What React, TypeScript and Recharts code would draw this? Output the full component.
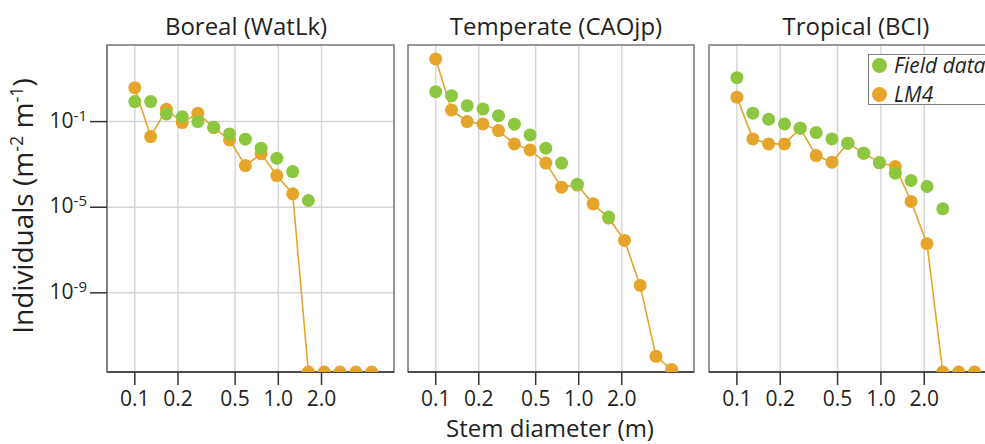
import React from 'react';
import { LineChart, Line, XAxis, YAxis, CartesianGrid, ReferenceArea, Legend } from 'recharts';

// Stem-diameter bin centres (m), shared by all panels
const DIAMETERS = [0.1, 0.129, 0.166, 0.214, 0.275, 0.355, 0.457, 0.589, 0.759, 0.977, 1.26, 1.62, 2.09, 2.69, 3.47, 4.47];

const X_TICKS = [0.1, 0.2, 0.5, 1, 2];
const Y_TICKS = [1e-9, 1e-5, 1e-1];
const X_DOMAIN: [number, number] = [0.064, 6.4];
const Y_DOMAIN: [number, number] = [2e-13, 380];

const TITLES = ['Boreal (WatLk)', 'Temperate (CAOjp)', 'Tropical (BCI)'];
const LEGEND_ITEMS = [
  { key: 'field', label: 'Field data' },
  { key: 'lm4', label: 'LM4' },
];

// Individuals (m-2 m-1); null = no field data, 0 = model gives zero (drawn on the axis floor)
const BOREAL_FIELD = [0.86, 0.86, 0.229, 0.171, 0.1, 0.0548, 0.0267, 0.0151, 0.00574, 0.00196, 4.65e-4, 2.06e-5, null, null, null, null];
const BOREAL_LM4 = [3.86, 0.02, 0.379, 0.0898, 0.247, 0.0525, 0.014, 8.85e-4, 0.00311, 3.02e-4, 4.23e-5, 0, 0, 0, 0, 0];

const TEMPERATE_FIELD = [2.51, 1.63, 0.558, 0.392, 0.19, 0.0756, 0.0239, 0.00574, 0.00115, 1.2e-4, null, 3.46e-6, null, null, null, null];
const TEMPERATE_LM4 = [84.3, 0.351, 0.1, 0.078, 0.038, 0.0091, 0.00477, 0.00115, 8.69e-5, 1.08e-4, 1.44e-5, 3.1e-6, 2.8e-7, 2.22e-9, 1.08e-12, 2.6e-13];

const TROPICAL_FIELD = [11.3, 0.247, 0.129, 0.078, 0.0492, 0.0307, 0.0156, 0.00982, 0.00335, 0.00122, 3.9e-4, 1.77e-4, 9.27e-5, 8.43e-6, null, null];
const TROPICAL_LM4 = [1.38, 0.0156, 0.0091, 0.0091, 0.0492, 0.00259, 0.00127, 0.00982, 0.00335, 0.00122, 7.94e-4, 1.85e-5, 1.96e-7, 0, 0, 0];

const GREEN = '#8dc63f';
const ORANGE = '#e6a52a';
const INK = '#231f20';
const FONT = '"Open Sans", "Noto Sans", sans-serif';

function buildRows(field: (number | null)[], lm4: number[]) {
  return DIAMETERS.map((d, i) => ({
    d,
    field: field[i],
    lm4: lm4[i] === 0 ? Y_DOMAIN[0] : lm4[i],
  }));
}

const YTick = (props: any) => {
  const { x, y, payload } = props;
  const exp = Math.round(Math.log10(payload.value));
  return (
    <text x={x} y={y + 6} textAnchor="end" fontSize={21} fill={INK} fontFamily={FONT}>
      10<tspan dy={-7} fontSize={15}>{exp}</tspan>
    </text>
  );
};

const LegendBox = () => (
  <div
    style={{
      position: 'relative',
      width: 140,
      height: 51,
      boxSizing: 'border-box',
      border: '1.5px solid #808080',
      background: '#fff',
      fontFamily: FONT,
      fontStyle: 'italic',
      fontSize: 21,
      color: INK,
    }}
  >
    {LEGEND_ITEMS.map((it, i) => (
      <div
        key={it.key}
        style={{
          position: 'absolute',
          left: 3,
          top: i * 29.3 - 1,
          height: 22,
          display: 'flex',
          alignItems: 'center',
          whiteSpace: 'nowrap',
        }}
      >
        <span
          style={{
            display: 'inline-block',
            width: 15,
            height: 15,
            borderRadius: '50%',
            background: it.key === 'field' ? GREEN : ORANGE,
            marginRight: 7,
          }}
        />
        <span style={{ lineHeight: '22px' }}>{it.label}</span>
      </div>
    ))}
  </div>
);

function Panel(props: { rows: any[]; left: number; width: number; showY: boolean; legend?: boolean }) {
  const { rows, left, width, showY, legend } = props;
  return (
    <div style={{ position: 'absolute', left, top: 0 }}>
      <LineChart width={width} height={444} data={rows} margin={{ top: 45, right: 6, bottom: 32, left: 0 }}>
        <CartesianGrid stroke="#d6d6d6" strokeWidth={1.5} />
        <ReferenceArea
          x1={X_DOMAIN[0]}
          x2={X_DOMAIN[1]}
          y1={Y_DOMAIN[0]}
          y2={Y_DOMAIN[1]}
          fill="none"
          stroke="#7f7f7f"
          strokeWidth={1.5}
          ifOverflow="visible"
        />
        <XAxis
          dataKey="d"
          type="number"
          scale="log"
          domain={X_DOMAIN}
          ticks={X_TICKS}
          interval={0}
          allowDataOverflow
          height={40}
          tickSize={13}
          tickMargin={6}
          tickFormatter={(v: number) => v.toFixed(1)}
          axisLine={{ stroke: '#333', strokeWidth: 1.5 }}
          tickLine={{ stroke: '#333', strokeWidth: 1.5 }}
          tick={{ fontSize: 21, fill: INK, fontFamily: FONT }}
        />
        <YAxis
          type="number"
          scale="log"
          domain={Y_DOMAIN}
          ticks={Y_TICKS}
          interval={0}
          allowDataOverflow
          width={showY ? 107 : 8}
          tickSize={17}
          tickMargin={3}
          tick={showY ? <YTick /> : false}
          tickLine={showY ? { stroke: '#333', strokeWidth: 1.5 } : false}
          axisLine={showY ? { stroke: '#808080', strokeWidth: 2 } : false}
        />
        {legend && (
          <Legend
            content={<LegendBox />}
            layout="horizontal"
            verticalAlign="middle"
            align="center"
            wrapperStyle={{ left: 167, top: 54, width: 140 }}
          />
        )}
        <Line
          dataKey="lm4"
          stroke={ORANGE}
          strokeWidth={1.6}
          dot={{ r: 6.5, fill: ORANGE, stroke: 'none' }}
          activeDot={false}
          isAnimationActive={false}
        />
        <Line
          dataKey="field"
          stroke="none"
          strokeWidth={0}
          dot={{ r: 6.5, fill: GREEN, stroke: 'none' }}
          activeDot={false}
          isAnimationActive={false}
        />
      </LineChart>
    </div>
  );
}

export default function App() {
  return (
    <div style={{ position: 'absolute', left: 0, top: 0, width: 985, height: 444, overflow: 'hidden', background: '#fff' }}>
      <svg width={985} height={444} style={{ position: 'absolute', left: 0, top: 0 }}>
        <g fontFamily={FONT} fill={INK}>
          <text x={246} y={35} fontSize={24} textAnchor="middle">{TITLES[0]}</text>
          <text x={556} y={35} fontSize={24} textAnchor="middle">{TITLES[1]}</text>
          <text x={856} y={35} fontSize={24} textAnchor="middle">{TITLES[2]}</text>
          <text x={550} y={437} fontSize={24} textAnchor="middle">Stem diameter (m)</text>
          <text transform="translate(33,206) rotate(-90)" fontSize={28} textAnchor="middle">
            Individuals (m<tspan dy={-10} fontSize={18}>-2</tspan>
            <tspan dy={10}> m</tspan>
            <tspan dy={-10} fontSize={18}>-1</tspan>
            <tspan dy={10}>)</tspan>
          </text>
        </g>
      </svg>
      <Panel rows={buildRows(BOREAL_FIELD, BOREAL_LM4)} left={0} width={400} showY />
      <Panel rows={buildRows(TEMPERATE_FIELD, TEMPERATE_LM4)} left={400} width={300} showY={false} />
      <Panel rows={buildRows(TROPICAL_FIELD, TROPICAL_LM4)} left={701} width={302} showY={false} legend />
    </div>
  );
}
